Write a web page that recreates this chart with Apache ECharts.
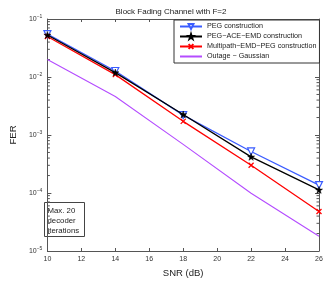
<!DOCTYPE html>
<html><head><meta charset="utf-8">
<script src="https://cdn.jsdelivr.net/npm/echarts@6/dist/echarts.min.js"></script>
<style>html,body{margin:0;padding:0;background:#fff}#c{width:332px;height:283px}</style>
</head><body><div id="c"></div>
<script>
const snr = [10, 14, 18, 22, 26];
const pegValues = [0.055, 0.0127, 0.0022, 0.00052, 0.000137];
const aceValues = [0.053, 0.0119, 0.00226, 0.00042, 0.000113];
const multipathValues = [0.050, 0.0110, 0.00172, 0.00030, 0.000048];
const outageValues = [0.020, 0.0046, 0.00069, 0.000099, 0.000018];
const seriesNames = ['PEG construction', 'PEG−ACE−EMD construction', 'Multipath−EMD−PEG construction', 'Outage − Gaussian'];
const xTicks = [10, 12, 14, 16, 18, 20, 22, 24, 26];
const yDecades = [-5, -4, -3, -2, -1];
const titleText = 'Block Fading Channel with F=2';
const xLabel = 'SNR (dB)';
const yLabel = 'FER';
const noteText = 'Max. 20\ndecoder\niterations';

const minorVals = [];
for (let k = -5; k < -1; k++) for (let m = 2; m <= 9; m++) minorVals.push([m * Math.pow(10, k)]);

const FONT = 'Liberation Sans';
const pair = (arr) => snr.map((x, i) => [x, arr[i]]);
const starPath = 'path://M50,0 L61.8,36.2 L100,36.2 L69.1,58.8 L80.9,95.1 L50,72.6 L19.1,95.1 L30.9,58.8 L0,36.2 L38.2,36.2 Z';
const xPath = 'path://M0,0 L10,10 M10,0 L0,10';

const chart = echarts.init(document.getElementById('c'), null, {renderer: 'canvas'});
const axisLineStyle = {color: '#555', width: 1};
chart.setOption({
  animation: false,
  backgroundColor: '#fff',
  textStyle: {fontFamily: FONT},
  title: {text: titleText, left: 166, top: 3, textAlign: 'center',
    textStyle: {fontSize: 8, fontWeight: 'normal', color: '#222', fontFamily: FONT}},
  grid: {left: 30, right: 13, top: 19, bottom: 32, containLabel: false},
  legend: {
    data: [seriesNames[0], seriesNames[1], seriesNames[2], {name: seriesNames[3], itemStyle: {opacity: 0}}],
    orient: 'vertical', left: 174, top: 20,
    padding: [3, 3, 3, 5], itemGap: 3, itemWidth: 22, itemHeight: 6,
    borderColor: '#333', borderWidth: 1, backgroundColor: '#fff',
    textStyle: {fontSize: 7.2, color: '#222', fontFamily: FONT}
  },
  xAxis: [{
    type: 'value', min: 10, max: 26, interval: 2, position: 'bottom',
    axisLine: {lineStyle: axisLineStyle}, axisTick: {inside: true, length: 3, lineStyle: axisLineStyle},
    splitLine: {show: false},
    axisLabel: {fontSize: 7, color: '#333', margin: 5, fontFamily: FONT},
    name: xLabel, nameLocation: 'middle', nameGap: 15,
    nameTextStyle: {fontSize: 9.5, color: '#222', fontFamily: FONT}
  }, {
    type: 'value', min: 10, max: 26, interval: 2, position: 'top',
    axisLine: {lineStyle: axisLineStyle}, axisTick: {inside: true, length: 3, lineStyle: axisLineStyle},
    splitLine: {show: false}, axisLabel: {show: false}
  }],
  yAxis: [{
    type: 'log', logBase: 10, min: 1e-5, max: 1e-1, position: 'left',
    axisLine: {show: true, lineStyle: axisLineStyle}, axisTick: {show: true, inside: true, length: 4, lineStyle: axisLineStyle},
    splitLine: {show: false},
    axisLabel: {fontFamily: FONT, margin: 5, formatter: (v) => {
      const e = Math.round(Math.log10(v));
      return '{b|10}{s|' + (e < 0 ? '−' + (-e) : e) + '}';
    }, rich: {b: {fontSize: 7, color: '#333', fontFamily: FONT}, s: {fontSize: 5, color: '#333', verticalAlign: 'top', padding: [0, 0, 5, 0], fontFamily: FONT}}},
    name: yLabel, nameLocation: 'middle', nameGap: 28, nameRotate: 90,
    nameTextStyle: {fontSize: 9.5, color: '#222', fontFamily: FONT}
  }, {
    type: 'log', logBase: 10, min: 1e-5, max: 1e-1, position: 'right',
    axisLine: {show: true, lineStyle: axisLineStyle}, axisTick: {show: true, inside: true, length: 4, lineStyle: axisLineStyle},
    splitLine: {show: false}, axisLabel: {show: false}
  }],
  graphic: [{
    type: 'group', left: 44, top: 202, children: [
      {type: 'rect', shape: {x: 0, y: 0, width: 40, height: 34}, style: {fill: '#fff', stroke: '#444', lineWidth: 1}},
      {type: 'text', x: 3, y: 3, style: {text: noteText, fontSize: 7.8, lineHeight: 10, fill: '#222', fontFamily: FONT}}
    ]
  }],
  series: [
    {type: 'custom', name: 'minorTicks', silent: true, data: minorVals, encode: {y: 0}, z: 1,
      renderItem: (params, api) => {
        const v = api.value(0);
        const p0 = api.coord([10, v]);
        const p1 = api.coord([26, v]);
        const st = {stroke: '#555', lineWidth: 1};
        return {type: 'group', children: [
          {type: 'line', shape: {x1: p0[0], y1: p0[1], x2: p0[0] + 2.5, y2: p0[1]}, style: st},
          {type: 'line', shape: {x1: p1[0], y1: p1[1], x2: p1[0] - 2.5, y2: p1[1]}, style: st}
        ]};
      }},
    {type: 'line', name: seriesNames[0], data: pair(pegValues), symbol: 'triangle', symbolRotate: 180, symbolSize: 7,
      lineStyle: {color: '#3a5cff', width: 1.3}, itemStyle: {color: '#ffffff', borderColor: '#3a5cff', borderWidth: 1.2}, z: 3},
    {type: 'line', name: seriesNames[1], data: pair(aceValues), symbol: starPath, symbolSize: 7,
      lineStyle: {color: '#000', width: 1.3}, itemStyle: {color: '#000', borderColor: '#000', borderWidth: 0.5}, z: 4},
    {type: 'line', name: seriesNames[2], data: pair(multipathValues), symbol: xPath, symbolSize: 5,
      lineStyle: {color: '#ff0000', width: 1.3}, itemStyle: {color: 'rgba(0,0,0,0)', borderColor: '#ff0000', borderWidth: 1.3}, z: 3},
    {type: 'line', name: seriesNames[3], data: pair(outageValues), symbol: 'none', showSymbol: false,
      lineStyle: {color: '#b44cff', width: 1.1}, itemStyle: {color: '#b44cff'}, z: 2}
  ]
});
</script></body></html>
